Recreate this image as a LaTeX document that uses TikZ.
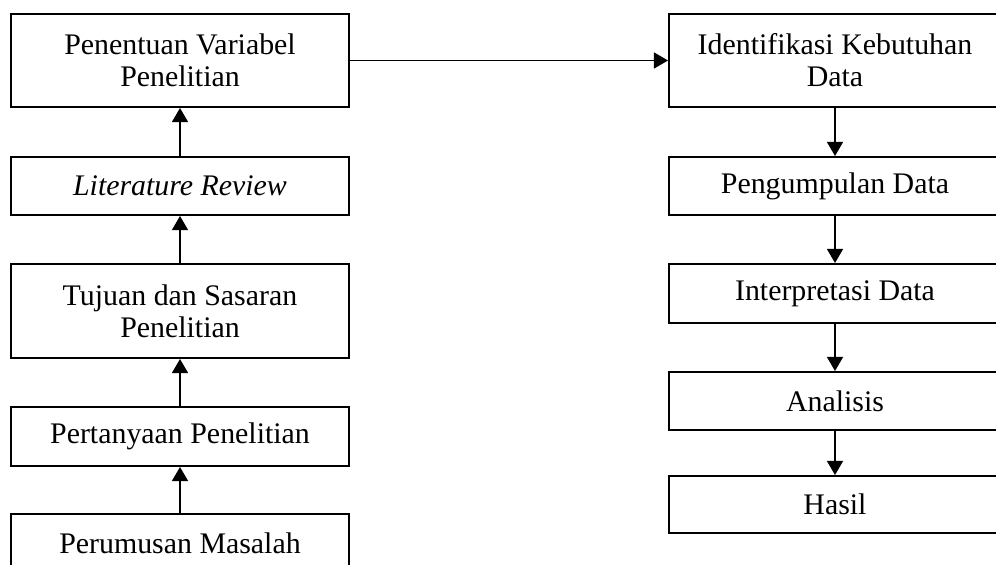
\documentclass[tikz,border=0pt]{standalone}
\usepackage{fontspec}
\setmainfont{Liberation Serif}
\usetikzlibrary{arrows.meta}

\begin{document}
\begin{tikzpicture}[scale=1]
\tikzstyle{stepbox}=[draw,line width=1.1pt,inner sep=0pt,align=center,font=\fontsize{17}{18.2}\selectfont]
\tikzstyle{leftbox}=[stepbox,minimum width=6.76cm]
\tikzstyle{rightbox}=[stepbox,minimum width=6.64cm]
\tikzstyle{flow}=[line width=1.1pt,-{Triangle[width=9pt,length=8pt]}]
\useasboundingbox (0,0) rectangle (19.92,-11.28);
% left column
\node[leftbox,minimum height=1.86cm] (v1) at (3.6,-1.21) {Penentuan Variabel\\Penelitian};
\node[leftbox,minimum height=1.16cm] (v2) at (3.6,-3.72) {\textit{Literature Review}};
\node[leftbox,minimum height=1.88cm] (v3) at (3.6,-6.22) {Tujuan dan Sasaran\\Penelitian};
\node[leftbox,minimum height=1.18cm] (v4) at (3.6,-8.73) {Pertanyaan Penelitian};
\node[leftbox,minimum height=1.16cm] (v5) at (3.6,-10.86) {Perumusan Masalah};
% right column
\node[rightbox,minimum height=1.86cm] (r1) at (16.7,-1.21) {Identifikasi Kebutuhan\\Data};
\node[rightbox,minimum height=1.16cm] (r2) at (16.7,-3.72) {Pengumpulan Data};
\node[rightbox,minimum height=1.18cm] (r3) at (16.7,-5.87) {Interpretasi Data};
\node[rightbox,minimum height=1.16cm] (r4) at (16.7,-8.02) {Analisis};
\node[rightbox,minimum height=1.14cm] (r5) at (16.7,-10.09) {Hasil};
\draw[flow] (v5) -- (v4);
\draw[flow] (v4) -- (v3);
\draw[flow] (v3) -- (v2);
\draw[flow] (v2) -- (v1);
\draw[flow] (v1) -- (r1);
\draw[flow] (r1) -- (r2);
\draw[flow] (r2) -- (r3);
\draw[flow] (r3) -- (r4);
\draw[flow] (r4) -- (r5);
\end{tikzpicture}
\end{document}
